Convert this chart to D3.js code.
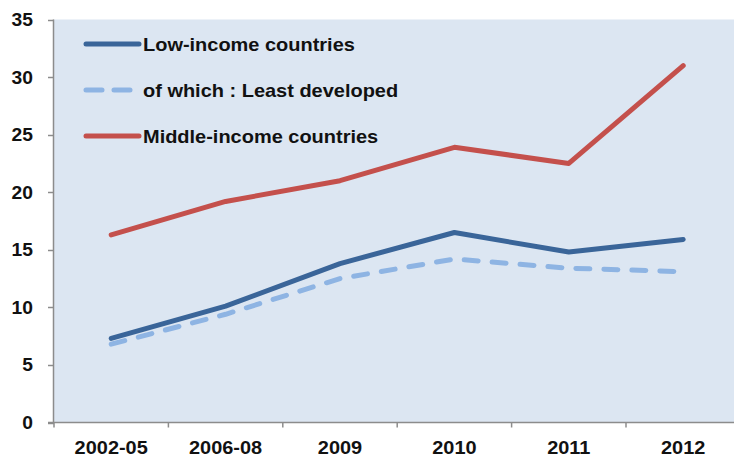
<!DOCTYPE html>
<html><head><meta charset="utf-8">
<script src="https://cdn.jsdelivr.net/npm/d3@7"></script>
<style>body{margin:0;background:#fff}svg{display:block}</style>
</head><body>
<svg id="c" width="734" height="457"></svg>
<script>
const categories = ["2002-05","2006-08","2009","2010","2011","2012"];
const lowIncome = [7.3, 10.1, 13.8, 16.5, 14.8, 15.9];
const leastDeveloped = [6.8, 9.4, 12.5, 14.2, 13.4, 13.1];
const middleIncome = [16.3, 19.2, 21.0, 23.9, 22.5, 31.0];
const yTicks = [0,5,10,15,20,25,30,35];
const seriesNames = ["Low-income countries","of which : Least developed","Middle-income countries"];

(function(){
const svg = d3.select("#c");
const pL = 54, pR = 740.4, pT = 19.5, pB = 422.5;
const x = d3.scaleBand().domain(categories).range([pL, pR]);
const y = d3.scaleLinear().domain([0,35]).range([pB, pT]);
const font = "'Liberation Sans', Arial, sans-serif";

svg.append("rect").attr("x", pL).attr("y", pT).attr("width", 734-pL).attr("height", pB-pT).attr("fill", "#dce6f2");

// y axis
svg.append("line").attr("x1", pL-0.5).attr("x2", pL-0.5).attr("y1", pT).attr("y2", pB).attr("stroke", "#8c8c8c").attr("stroke-width", 1.5);
svg.selectAll(".yt").data(yTicks).enter().append("line")
  .attr("x1", pL-6).attr("x2", pL).attr("y1", d=>Math.round(y(d))+0.5).attr("y2", d=>Math.round(y(d))+0.5)
  .attr("stroke", "#8c8c8c").attr("stroke-width", 1.5);
svg.selectAll(".yl").data(yTicks).enter().append("text")
  .attr("transform", d=>`translate(33,${y(d)+6.5}) scale(1.1,1)`)
  .attr("text-anchor","end").attr("font-family", font).attr("font-weight","bold").attr("font-size", 17.5).attr("fill","#111")
  .text(d=>d);

// x axis
svg.append("line").attr("x1", pL-6).attr("x2", 734).attr("y1", pB).attr("y2", pB).attr("stroke", "#8c8c8c").attr("stroke-width", 1.5);
const bounds = categories.map(c=>x(c)).concat([x(categories[categories.length-1])+x.bandwidth()]);
svg.selectAll(".xt").data(bounds).enter().append("line")
  .attr("x1", d=>d).attr("x2", d=>d).attr("y1", pB).attr("y2", pB+5)
  .attr("stroke", "#8c8c8c").attr("stroke-width", 1.5);
svg.selectAll(".xl").data(categories).enter().append("text")
  .attr("transform", d=>`translate(${x(d)+x.bandwidth()/2},453.5) scale(1.14,1)`)
  .attr("text-anchor","middle").attr("font-family", font).attr("font-weight","bold").attr("font-size", 17.5).attr("fill","#111")
  .text(d=>d);

const series = [
  {name: seriesNames[0], values: lowIncome, color: "#3a6599", dash: null},
  {name: seriesNames[1], values: leastDeveloped, color: "#8eb4e3", dash: "14,14"},
  {name: seriesNames[2], values: middleIncome, color: "#c4504c", dash: null}
];
const line = d3.line().x((d,i)=>x(categories[i])+x.bandwidth()/2).y(d=>y(d));
[1,0,2].forEach(k=>{
  const s = series[k];
  svg.append("path").attr("d", line(s.values)).attr("fill","none").attr("stroke", s.color)
    .attr("stroke-width", 5).attr("stroke-linecap","round").attr("stroke-linejoin","round")
    .attr("stroke-dasharray", s.dash);
});

// legend
series.forEach((s,i)=>{
  const ly = 44 + i*46;
  svg.append("line").attr("x1", 86).attr("x2", 139).attr("y1", ly).attr("y2", ly)
    .attr("stroke", s.color).attr("stroke-width", 5).attr("stroke-linecap","round")
    .attr("stroke-dasharray", s.dash ? "16,12" : null);
  svg.append("text").attr("transform", `translate(143,${ly+6.5}) scale(1.11,1)`)
    .attr("font-family", font).attr("font-weight","bold").attr("font-size", 18).attr("fill","#111")
    .text(s.name);
});
})();
</script>
</body></html>
